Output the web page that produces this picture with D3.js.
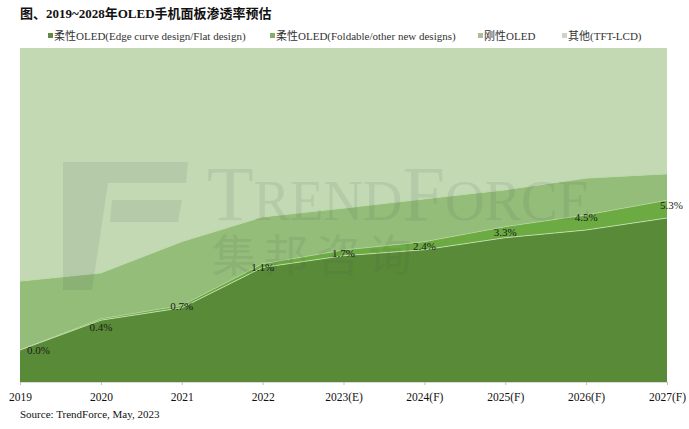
<!DOCTYPE html>
<html>
<head>
<meta charset="utf-8">
<script src="https://cdn.jsdelivr.net/npm/d3@7"></script>
<style>
  body { margin: 0; background: #fff; }
  text { font-family: "Liberation Serif", "Noto Sans CJK SC", serif; }
</style>
</head>
<body>
<div class="chart"></div>
<script>
// data (share of phone panels, %)
const years = ['2019','2020','2021','2022','2023(E)','2024(F)','2025(F)','2026(F)','2027(F)'];
const flexFlat = [9.6, 18.5, 22.2, 34.3, 37.8, 39.6, 43.2, 45.5, 49.1];
const flexFold = [0.0, 0.4, 0.7, 1.1, 1.7, 2.4, 3.3, 4.5, 5.3];
const rigid = [20.6, 13.7, 19.1, 14.0, 12.5, 12.8, 11.0, 11.0, 7.9];
const tft = years.map((y,i) => 100 - flexFlat[i] - flexFold[i] - rigid[i]);
const seriesNames = ['柔性OLED(Edge curve design/Flat design)', '柔性OLED(Foldable/other new designs)', '刚性OLED', '其他(TFT-LCD)'];
const colors = ['#588a37', '#6caa42', '#93bd79', '#c2d9b4'];
const markerColors = ['#5f8a43', '#86ad6c', '#a9bc9c', '#cdd5c8'];

const width = 689, height = 429;
const svg = d3.select('.chart').append('svg')
  .attr('width', width)
  .attr('height', height);

const keys = ['flat','fold','rigid','tft'];
const rows = years.map((y,i) => ({year: y, flat: flexFlat[i], fold: flexFold[i], rigid: rigid[i], tft: tft[i]}));
const stacked = d3.stack().keys(keys)(rows);

const x = d3.scalePoint().domain(years).range([20, 667]);
const y = d3.scaleLinear().domain([0, 100]).range([382, 48]);

const area = d3.area()
  .x(d => x(d.data.year))
  .y0(d => y(d[0]))
  .y1(d => y(d[1]));

svg.selectAll('path.area')
  .data(stacked)
  .enter()
  .append('path')
  .attr('class', 'area')
  .attr('d', area)
  .attr('fill', (d,i) => colors[i]);

// faint light lines on the boundaries
const topLine = d3.line().x(d => x(d.data.year)).y(d => y(d[1]));
svg.selectAll('path.edge')
  .data(stacked.slice(0, 3))
  .enter()
  .append('path')
  .attr('class', 'edge')
  .attr('d', topLine)
  .attr('fill', 'none')
  .attr('stroke', (d,i) => i == 0 ? '#d8ebc8' : '#b5d59c')
  .attr('stroke-opacity', 0.7)
  .attr('stroke-width', 1);

// watermark
const wm = svg.append('g').attr('opacity', 0.11).attr('fill', '#555');
wm.append('path').attr('d', 'M63,162 L188,162 L186,183 L108,183 L92,290 L63,290 Z');
wm.append('path').attr('d', 'M112,200 L182,200 L178,222 L110,222 Z');
const wmText = wm.append('text').attr('x', 207).attr('y', 220)
  .attr('textLength', 384).attr('lengthAdjust', 'spacingAndGlyphs');
wmText.append('tspan').attr('font-size', 78).text('T');
wmText.append('tspan').attr('font-size', 56).text('REND');
wmText.append('tspan').attr('font-size', 78).text('F');
wmText.append('tspan').attr('font-size', 56).text('ORCE');
wm.append('text')
  .attr('x', 212).attr('y', 272)
  .attr('font-family', 'Noto Sans CJK SC')
  .attr('font-size', 44)
  .attr('letter-spacing', 8)
  .text('集邦咨询');

// value labels for the foldable series
const labelShift = [0, 8, -1, 2, 0, 0, 0, -5, -4];
svg.selectAll('text.values')
  .data(stacked[1])
  .enter()
  .append('text')
  .attr('class', 'values')
  .text((d,i) => flexFold[i].toFixed(1) + '%')
  .attr('x', (d,i) => x(d.data.year) + (i == 0 ? 7 : i == years.length-1 ? -7 : 0))
  .attr('y', (d,i) => (y(d[0]) + y(d[1])) / 2 + labelShift[i])
  .attr('dy', '0.35em')
  .attr('text-anchor', (d,i) => i == 0 ? 'start' : i == years.length-1 ? 'start' : 'middle')
  .attr('font-size', 11)
  .attr('fill', '#1a1a1a');

// x axis
const xAxis = svg.append('g')
  .attr('transform', 'translate(0,382)')
  .call(d3.axisBottom(x).tickSize(3).tickPadding(8));
xAxis.select('.domain').attr('stroke', '#d9d9d9');
xAxis.selectAll('.tick line').attr('stroke', '#bfbfbf');
xAxis.selectAll('.tick text')
  .attr('font-size', 11.5)
  .attr('font-family', '"Liberation Serif", serif')
  .attr('fill', '#111');

// title
svg.append('text')
  .attr('x', 20).attr('y', 18)
  .attr('font-size', 13)
  .attr('font-weight', 'bold')
  .attr('fill', '#111')
  .text('图、2019~2028年OLED手机面板渗透率预估');

// legend
const legendX = [48, 270, 478, 562];
const legend = svg.selectAll('g.legend')
  .data(seriesNames)
  .enter()
  .append('g')
  .attr('class', 'legend')
  .attr('transform', (d,i) => 'translate(' + legendX[i] + ',0)');
legend.append('rect')
  .attr('x', 0).attr('y', 33)
  .attr('width', 5).attr('height', 5)
  .attr('fill', (d,i) => markerColors[i]);
legend.append('text')
  .attr('x', 6).attr('y', 40)
  .attr('font-size', 11)
  .attr('fill', '#333')
  .text(d => d);

// source
svg.append('text')
  .attr('x', 20).attr('y', 418)
  .attr('font-size', 11)
  .attr('fill', '#111')
  .text('Source: TrendForce, May, 2023');
</script>
</body>
</html>
